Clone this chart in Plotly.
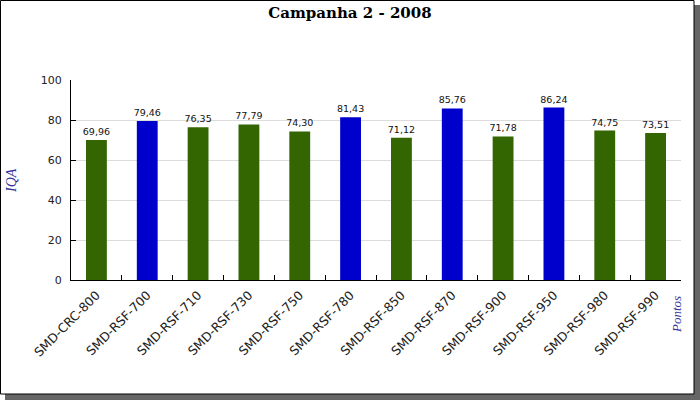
import plotly.graph_objects as go

categories = ["SMD-CRC-800", "SMD-RSF-700", "SMD-RSF-710", "SMD-RSF-730", "SMD-RSF-750",
              "SMD-RSF-780", "SMD-RSF-850", "SMD-RSF-870", "SMD-RSF-900", "SMD-RSF-950",
              "SMD-RSF-980", "SMD-RSF-990"]
values = [69.96, 79.46, 76.35, 77.79, 74.30, 81.43, 71.12, 85.76, 71.78, 86.24, 74.75, 73.51]
highlight = [False, True, False, False, False, True, False, True, False, True, False, False]
y_ticks = [0, 20, 40, 60, 80, 100]

GREEN = "#336600"
BLUE = "#0000CC"
bar_colors = [BLUE if h else GREEN for h in highlight]
labels = [f"{v:.2f}".replace(".", ",") for v in values]

W, H = 700, 400
L, R, T, B = 71, 681, 80, 280  # plot area in pixels


def px(x):
    return (x - L) / (R - L)


def py(y):
    return (B - y) / (B - T)


fig = go.Figure()
fig.add_trace(go.Bar(
    x=categories, y=values, marker=dict(color=bar_colors, line=dict(width=0)),
    width=0.41, text=labels, textposition="outside", cliponaxis=False,
    constraintext="none",
    textfont=dict(family="DejaVu Sans", size=9.5, color="#111111"),
    hoverinfo="x+y",
))

fig.update_layout(
    width=W, height=H,
    margin=dict(l=L, r=W - R, t=T, b=H - B, pad=0),
    paper_bgcolor="white", plot_bgcolor="rgba(0,0,0,0)",
    showlegend=False,
    title=dict(text="<b>Campanha 2 - 2008</b>", x=0.5, xanchor="center", y=1 - 13 / H, yanchor="middle",
               font=dict(family="DejaVu Serif", size=15, color="#000000")),
    xaxis=dict(showline=True, linecolor="black", linewidth=1, ticks="inside", ticklen=5,
               tickcolor="black", tickson="boundaries", tickangle=-45,
               tickfont=dict(family="DejaVu Sans", size=12.5, color="#222222"),
               ticklabelstandoff=2,
               showgrid=False, zeroline=False),
    yaxis=dict(range=[0, 100], tickvals=y_ticks, showline=True, linecolor="black", linewidth=1,
               ticks="inside", ticklen=5, tickcolor="black",
               tickfont=dict(family="DejaVu Sans", size=11, color="#222222"),
               ticklabelstandoff=6,
               showgrid=True, gridcolor="#dcdcdc", gridwidth=1, zeroline=False),
    shapes=[
        dict(type="rect", xref="paper", yref="paper", layer="below",
             x0=px(5), x1=px(700), y0=py(5), y1=py(400),
             fillcolor="#666666", line=dict(width=0)),
        dict(type="rect", xref="paper", yref="paper", layer="below",
             x0=px(0.5), x1=px(694), y0=py(0.5), y1=py(394),
             fillcolor="white", line=dict(color="black", width=1)),
    ],
    annotations=[
        dict(text="<i>IQA</i>", xref="paper", yref="paper", x=px(11), y=py(181),
             showarrow=False, textangle=-90, xanchor="center", yanchor="middle",
             font=dict(family="Liberation Serif", size=14, color="#333399")),
        dict(text="<i>Pontos</i>", xref="paper", yref="paper", x=px(676), y=py(315),
             showarrow=False, textangle=-90, xanchor="center", yanchor="middle",
             font=dict(family="Liberation Serif", size=13, color="#333399")),
    ],
)

fig.write_html("out.html", config={"displayModeBar": False},
               post_script="document.body.style.margin='0';document.body.style.overflow='hidden';")
